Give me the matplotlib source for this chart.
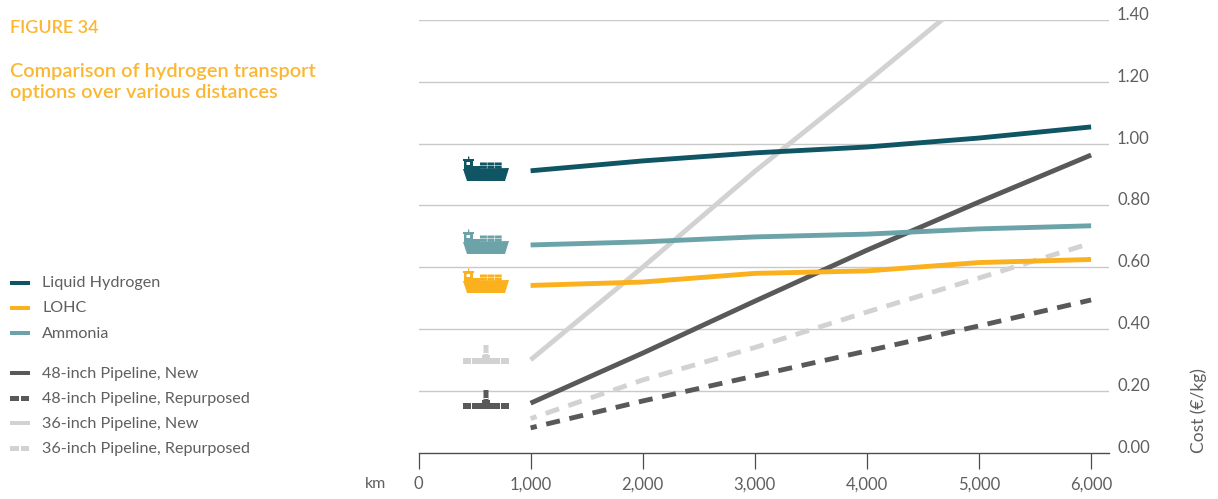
import matplotlib
matplotlib.use('Agg')
import matplotlib.pyplot as plt
from matplotlib.patches import Polygon, Rectangle

# cost in EUR/kg
distance = [1000, 2000, 3000, 4000, 5000, 6000]
liquid_hydrogen = [0.912, 0.944, 0.970, 0.989, 1.018, 1.054]
lohc = [0.541, 0.552, 0.580, 0.588, 0.615, 0.625]
ammonia = [0.672, 0.682, 0.698, 0.707, 0.724, 0.734]
pipe48_new = [0.160, 0.322, 0.490, 0.655, 0.811, 0.963]
pipe48_rep = [0.080, 0.167, 0.248, 0.329, 0.410, 0.494]
pipe36_new = [0.300, 0.600, 0.910, 1.200, 1.500]
pipe36_rep = [0.110, 0.235, 0.340, 0.455, 0.565, 0.678]

x_ticks = [0, 1000, 2000, 3000, 4000, 5000, 6000]
x_labels = ['0', '1,000', '2,000', '3,000', '4,000', '5,000', '6,000']
y_ticks = [0.0, 0.2, 0.4, 0.6, 0.8, 1.0, 1.2, 1.4]
y_labels = ['0.00', '0.20', '0.40', '0.60', '0.80', '1.00', '1.20', '1.40']

TEAL = '#0f5563'
ORANGE = '#fbb01e'
AQUA = '#6ba3a9'
DARK = '#595959'
LIGHT = '#d2d2d2'
TEXT = '#5f5f5f'
TITLE = '#fcb732'
DASH = (1.6, (2.9, 2.0))

W, H = 1218, 499
plt.rcParams['font.family'] = ['Lato', 'DejaVu Sans']

fig = plt.figure(figsize=(W / 100, H / 100), dpi=100)
ax = fig.add_axes([418.5 / W, 1 - 452.6 / H, 690.2 / W, 432.6 / H])

# gridlines stop at the right edge, baseline is darker
for y in y_ticks[1:]:
    ax.axhline(y, color='#c9c9c9', lw=1.0, zorder=1)
ax.axhline(0, color='#4d4d4d', lw=1.0, zorder=1, clip_on=False)

series = [
    (pipe36_new, LIGHT, 'solid'),
    (pipe36_rep, LIGHT, DASH),
    (pipe48_new, DARK, 'solid'),
    (pipe48_rep, DARK, DASH),
    (ammonia, AQUA, 'solid'),
    (lohc, ORANGE, 'solid'),
    (liquid_hydrogen, TEAL, 'solid'),
]
for values, color, style in series:
    ax.plot(distance[:len(values)], values, color=color, lw=3.5, ls=style,
            solid_capstyle='butt', dash_capstyle='butt', solid_joinstyle='round', zorder=3)

ax.set_xlim(0, 6157)
ax.set_ylim(0, 1.4)
for side in ax.spines.values():
    side.set_visible(False)
ax.patch.set_alpha(0)

ax.set_xticks(x_ticks, x_labels)
ax.tick_params(axis='x', length=11.5, width=0.9, color='#4d4d4d', labelcolor=TEXT, labelsize=12, pad=5.5)
ax.yaxis.tick_right()
ax.set_yticks(y_ticks, y_labels)
ax.tick_params(axis='y', length=0, labelcolor=TEXT, labelsize=12, pad=6)
for label in ax.get_yticklabels():
    label.set_va('baseline')

# overlay in pixel coordinates for texts, legend and icons
over = fig.add_axes([0, 0, 1, 1])
over.set_xlim(0, W)
over.set_ylim(H, 0)
over.axis('off')
over.patch.set_alpha(0)

over.text(10, 27.5, 'FIGURE 34', color=TITLE, fontsize=13, fontweight='semibold', va='center')
over.text(10, 71.5, 'Comparison of hydrogen transport', color=TITLE, fontsize=14.4, fontweight='semibold', va='center')
over.text(10, 92.5, 'options over various distances', color=TITLE, fontsize=14.4, fontweight='semibold', va='center')
over.text(375.5, 484, 'km', color=TEXT, fontsize=11.5, ha='center', va='center')
over.text(1199, 453, 'Cost (€/kg)', color=TEXT, fontsize=12.5, rotation=90, ha='center', va='bottom')

legend_rows = [
    (282.5, 'Liquid Hydrogen', TEAL, False),
    (307.5, 'LOHC', ORANGE, False),
    (332.5, 'Ammonia', AQUA, False),
    (373, '48-inch Pipeline, New', DARK, False),
    (398, '48-inch Pipeline, Repurposed', DARK, True),
    (423, '36-inch Pipeline, New', LIGHT, False),
    (448, '36-inch Pipeline, Repurposed', LIGHT, True),
]
for y, name, color, dashed in legend_rows:
    if dashed:
        over.add_patch(Rectangle((10, y - 2.5), 8.5, 5, color=color, lw=0))
        over.add_patch(Rectangle((20.5, y - 2.5), 8.5, 5, color=color, lw=0))
    else:
        over.add_patch(Rectangle((10, y - 2), 19.5, 4, color=color, lw=0))
    over.text(42, y + 1, name, color=TEXT, fontsize=11.6, va='center')


def box(x, y, w, h, color):
    over.add_patch(Rectangle((x, y), w, h, facecolor=color, edgecolor='none', snap=False))


def draw_ship(left, base, color):
    # hull, bridge, mast and container stack of a 46px wide icon
    hull = [(left, base - 12), (left + 46, base - 13), (left + 42, base), (left + 4, base)]
    over.add_patch(Polygon(hull, facecolor=color, edgecolor='none', snap=False))
    box(left + 1, base - 21, 9, 10, color)
    box(left, base - 22, 11, 2, color)
    box(left + 5, base - 24.5, 1.3, 3, color)
    box(left + 3.5, base - 19, 3.5, 3, 'white')
    box(left + 10, base - 15, 7, 3, color)
    for col in range(3):
        for row in range(2):
            box(left + 17 + col * 7.4, base - 18.5 + row * 3.4, 6.9, 2.9, color)


def draw_pipe(cx, cy, color):
    # T-shaped pipe joint with white collars
    box(cx - 23, cy - 3, 46, 6, color)
    box(cx - 2.5, cy - 16, 5, 14, color)
    box(cx - 4, cy - 6, 8, 3.5, color)
    for dx in (-15, 14):
        box(cx + dx, cy - 3, 1, 6, 'white')
    box(cx - 2.5, cy - 8, 5, 1, 'white')


draw_ship(463, 181, TEAL)
draw_ship(463, 254, AQUA)
draw_ship(463, 293, ORANGE)
draw_pipe(486, 361, LIGHT)
draw_pipe(486, 406, DARK)

fig.savefig('out.png', dpi=100)
